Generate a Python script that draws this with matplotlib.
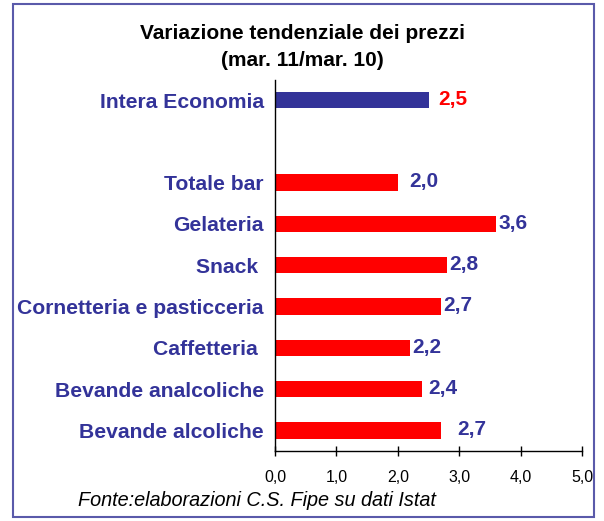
import numpy as np
from matplotlib import pyplot as plt
from matplotlib.patches import Rectangle

# dati
categorie = ['Intera Economia', 'Totale bar', 'Gelateria', 'Snack ',
             'Cornetteria e pasticceria', 'Caffetteria ', 'Bevande analcoliche',
             'Bevande alcoliche']
valori = [2.5, 2.0, 3.6, 2.8, 2.7, 2.2, 2.4, 2.7]
posizioni = [0, 2, 3, 4, 5, 6, 7, 8]
tick_x = [0, 1, 2, 3, 4, 5]

# stile
blu = '#333399'
rosso = '#ff0000'
colori_barre = [blu] + [rosso]*7
colori_etichette = [rosso] + [blu]*7
offset_etichette = [7, 8, 2, 1.5, 2, 1.5, 4.5, 12]  # in punti

plt.rcParams['font.family'] = ['Liberation Sans', 'DejaVu Sans']

fig = plt.figure(figsize=(6.04, 5.21), dpi=100)
ax = fig.add_axes([0.4553, 0.1344, 0.5083, 0.713])

ax.barh(posizioni, valori, height=0.4, color=colori_barre)
ax.set_ylim(8.5, -0.5)
ax.set_xlim(0, 5)

for p, v, c, o in zip(posizioni, valori, colori_etichette, offset_etichette):
    ax.annotate(('%.1f' % v).replace('.', ','), (v, p), xytext=(o, 0.5),
                textcoords='offset points', ha='left', va='center',
                fontsize=15, fontweight='bold', color=c)

ax.set_yticks(posizioni)
ax.set_yticklabels(categorie, fontsize=15.2, fontweight='bold', color=blu)
ax.tick_params(axis='y', length=0, pad=8)

ax.set_xticks(tick_x)
ax.set_xticklabels([('%.1f' % t).replace('.', ',') for t in tick_x], fontsize=11.5)
ax.tick_params(axis='x', direction='inout', length=7, width=1, pad=10)

for s in ['top', 'right']:
    ax.spines[s].set_visible(False)
ax.spines['left'].set_linewidth(1)
ax.spines['bottom'].set_linewidth(1)

fig.text(0.5, 0.935, 'Variazione tendenziale dei prezzi', ha='center', va='center',
         fontsize=15, fontweight='bold')
fig.text(0.5, 0.884, '(mar. 11/mar. 10)', ha='center', va='center',
         fontsize=15, fontweight='bold')
fig.text(0.129, 0.039, 'Fonte:elaborazioni C.S. Fipe su dati Istat', ha='left',
         va='center', fontsize=14.3, style='italic')

# cornice
fig.patches.append(Rectangle((13/604, 4/521), 581/604, 513/521, transform=fig.transFigure,
                             fill=False, edgecolor='#5a5aaa', linewidth=1.5))

plt.savefig('out.png', dpi=100)
